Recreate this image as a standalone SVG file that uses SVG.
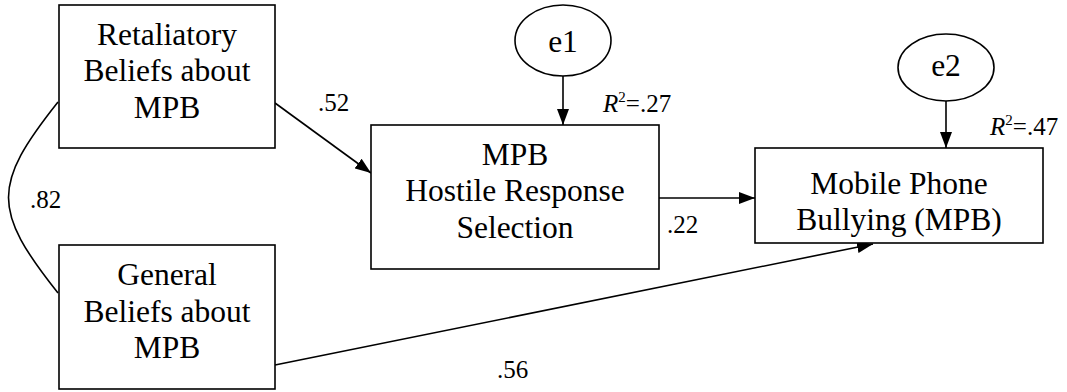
<svg xmlns="http://www.w3.org/2000/svg" width="1067" height="392" viewBox="0 0 1067 392">
  <defs>
    <marker id="arrow" viewBox="0 0 16 12" refX="16" refY="6" markerWidth="16" markerHeight="12" markerUnits="userSpaceOnUse" orient="auto">
      <path d="M0,0 L16,6 L0,12 Z" fill="#000"/>
    </marker>
    <style>
      .box { fill: #fff; stroke: #000; stroke-width: 1.6; }
      .lbl { font-family: "Liberation Serif", "Times New Roman", serif; font-size: 31.5px; fill: #000; text-anchor: middle; }
      .coef { font-family: "Liberation Serif", "Times New Roman", serif; font-size: 25px; fill: #000; }
      .edge { fill: none; stroke: #000; stroke-width: 1.6; }
    </style>
  </defs>
  <rect width="1067" height="392" fill="#fff"/>

  <!-- paths and covariance -->
  <g id="connectors">
    <path class="edge" d="M58,102 C -8,185 -8,210 58,293"/>
    <line class="edge" x1="275" y1="103" x2="371" y2="173" marker-end="url(#arrow)"/>
    <line class="edge" x1="659" y1="198" x2="755" y2="198" marker-end="url(#arrow)"/>
    <line class="edge" x1="275" y1="365" x2="873" y2="244" marker-end="url(#arrow)"/>
    <line class="edge" x1="563" y1="76" x2="563" y2="125" marker-end="url(#arrow)"/>
    <line class="edge" x1="946" y1="101" x2="946" y2="148" marker-end="url(#arrow)"/>
    <text class="coef" x="318" y="111">.52</text>
    <text class="coef" x="30" y="208">.82</text>
    <text class="coef" x="667" y="233">.22</text>
    <text class="coef" x="497" y="378">.56</text>
  </g>

  <g id="retaliatory-beliefs">
    <rect class="box" x="59" y="5" width="216" height="143"/>
    <text class="lbl" x="167" y="45">Retaliatory</text>
    <text class="lbl" x="167" y="81">Beliefs about</text>
    <text class="lbl" x="167" y="118">MPB</text>
  </g>

  <g id="general-beliefs">
    <rect class="box" x="59" y="245" width="216" height="144"/>
    <text class="lbl" x="167" y="285">General</text>
    <text class="lbl" x="167" y="322">Beliefs about</text>
    <text class="lbl" x="167" y="358">MPB</text>
  </g>

  <g id="hostile-response">
    <rect class="box" x="371" y="125" width="288" height="144"/>
    <text class="lbl" x="515" y="165">MPB</text>
    <text class="lbl" x="515" y="201">Hostile Response</text>
    <text class="lbl" x="515" y="238">Selection</text>
    <text class="coef" x="603" y="112"><tspan font-style="italic">R</tspan><tspan font-size="15" dy="-10">2</tspan><tspan dy="10">=.27</tspan></text>
  </g>

  <g id="mobile-bullying">
    <rect class="box" x="755" y="148" width="288" height="95"/>
    <text class="lbl" x="899" y="194">Mobile Phone</text>
    <text class="lbl" x="899" y="230">Bullying (MPB)</text>
    <text class="coef" x="990" y="135"><tspan font-style="italic">R</tspan><tspan font-size="15" dy="-10">2</tspan><tspan dy="10">=.47</tspan></text>
  </g>

  <g id="e1">
    <ellipse class="box" cx="563" cy="40.5" rx="48" ry="35.5"/>
    <text class="lbl" x="563" y="52">e1</text>
  </g>

  <g id="e2">
    <ellipse class="box" cx="946" cy="67.5" rx="48" ry="33.5"/>
    <text class="lbl" x="946" y="76">e2</text>
  </g>
</svg>
